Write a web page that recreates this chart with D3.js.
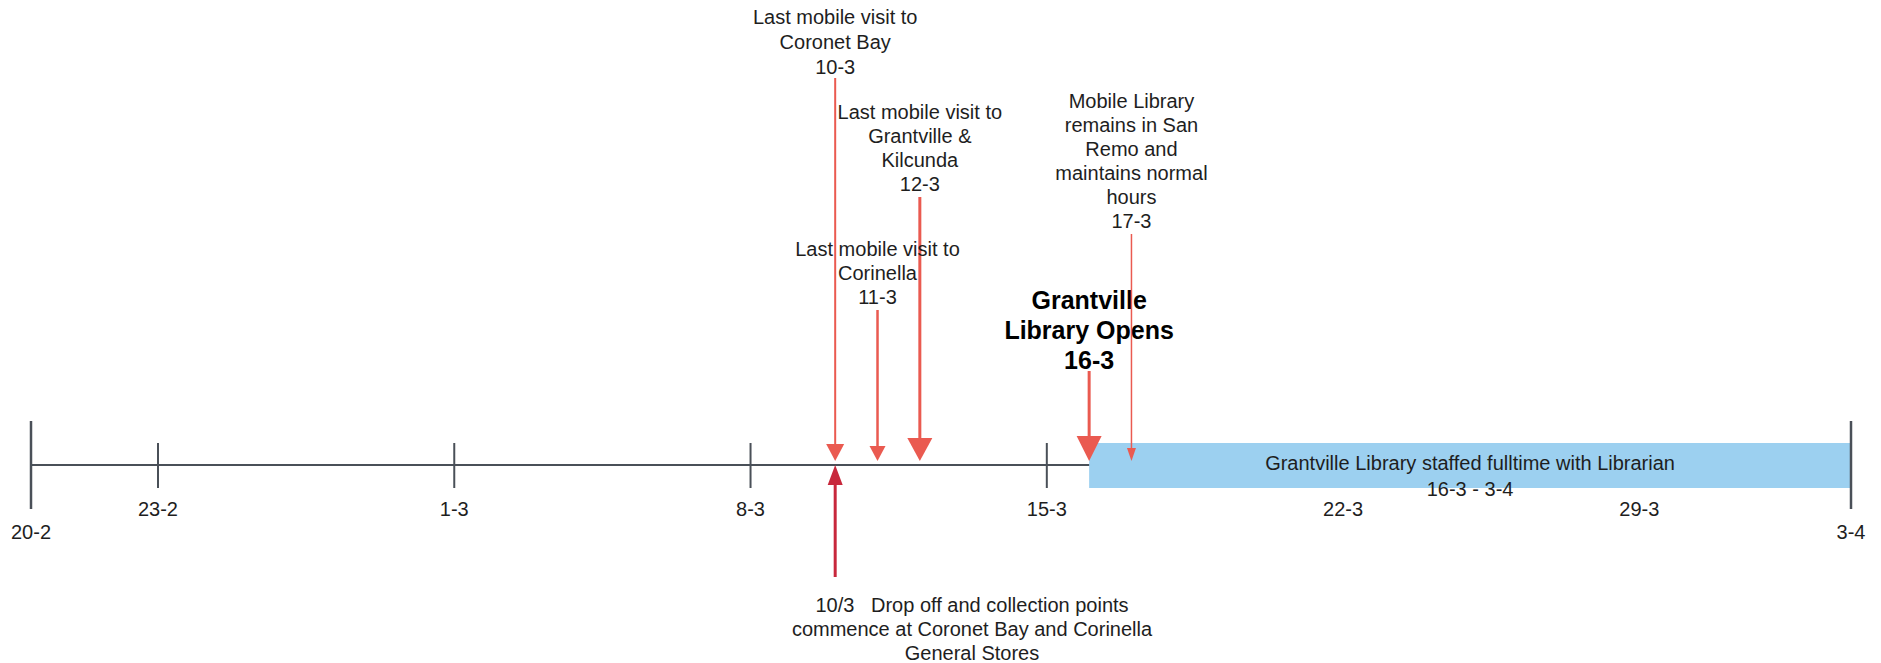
<!DOCTYPE html>
<html>
<head>
<meta charset="utf-8">
<script src="https://cdn.jsdelivr.net/npm/d3@7"></script>
<style>
  body { margin: 0; background: #fff; }
  svg text { font-family: "Liberation Sans", Arial, sans-serif; fill: #1e1e1e; white-space: pre; }
</style>
</head>
<body>
<div id="chart"></div>
<script>
// timeline data
const endDates = ["2020-02-20", "2020-04-03"]
const endLabels = ["20-2", "3-4"]
const weekDates = ["2020-02-23", "2020-03-01", "2020-03-08", "2020-03-15", "2020-03-22", "2020-03-29"]
const weekLabels = ["23-2", "1-3", "8-3", "15-3", "22-3", "29-3"]

const eventDates = ["2020-03-10", "2020-03-12", "2020-03-11", "2020-03-16", "2020-03-17"]
const eventLabels = [
  ["Last mobile visit to", "Coronet Bay", "10-3"],
  ["Last mobile visit to", "Grantville &", "Kilcunda", "12-3"],
  ["Last mobile visit to", "Corinella", "11-3"],
  ["Grantville", "Library Opens", "16-3"],
  ["Mobile Library", "remains in San", "Remo and", "maintains normal", "hours", "17-3"]
]

const spanStart = "2020-03-16"
const spanEnd = "2020-04-03"
const spanLabels = ["Grantville Library staffed fulltime with Librarian", "16-3 - 3-4"]

const dropDate = "2020-03-10"
const dropLabels = ["10/3   Drop off and collection points", "commence at Coronet Bay and Corinella", "General Stores"]

// layout for the annotations (not data)
const eventLayout = [
  { top: 17, gap: 25, size: 20, bold: false, stemTop: 78, hw: 18, hh: 17, sw: 2 },
  { top: 112, gap: 24, size: 20, bold: false, stemTop: 197, hw: 25, hh: 23, sw: 3 },
  { top: 249, gap: 24, size: 20, bold: false, stemTop: 310, hw: 16, hh: 15, sw: 2.5 },
  { top: 300, gap: 30, size: 25, bold: true, stemTop: 371, hw: 25, hh: 25, sw: 3 },
  { top: 101, gap: 24, size: 20, bold: false, stemTop: 234, hw: 9, hh: 13, sw: 1.5 }
]

const width = 1881, height = 663
const axisY = 465
const fontSize = "20px"
const arrowRed = "#ea5a50"
const darkRed = "#c8283c"
const axisColor = "#4a5058"

const parse = d3.timeParse("%Y-%m-%d")
const x = d3.scaleTime()
  .domain([parse(endDates[0]), parse(endDates[1])])
  .range([31, 1851])

const svg = d3.select("#chart").append("svg")
  .attr("width", width)
  .attr("height", height)

// axis line
svg.append("line")
  .attr("x1", x(parse(endDates[0])))
  .attr("x2", x(parse(endDates[1])))
  .attr("y1", axisY).attr("y2", axisY)
  .attr("stroke", axisColor)
  .attr("stroke-width", 2)

// weekly ticks
svg.selectAll(".wtick")
  .data(weekDates)
  .enter().append("line")
  .attr("class", "wtick")
  .attr("x1", d => x(parse(d))).attr("x2", d => x(parse(d)))
  .attr("y1", 443).attr("y2", 488)
  .attr("stroke", axisColor)
  .attr("stroke-width", 2)

svg.selectAll(".wlabel")
  .data(weekLabels)
  .enter().append("text")
  .attr("class", "wlabel")
  .attr("x", (d, i) => x(parse(weekDates[i])))
  .attr("y", 509)
  .attr("dy", "0.35em")
  .attr("text-anchor", "middle")
  .style("font-size", fontSize)
  .text(d => d)

// span bar
svg.append("rect")
  .attr("x", x(parse(spanStart)))
  .attr("width", x(parse(spanEnd)) - x(parse(spanStart)))
  .attr("y", 443)
  .attr("height", 45)
  .attr("fill", "#9cd0f0")

svg.selectAll(".slabel")
  .data(spanLabels)
  .enter().append("text")
  .attr("class", "slabel")
  .attr("x", (x(parse(spanStart)) + x(parse(spanEnd))) / 2)
  .attr("y", (d, i) => 463 + i * 26)
  .attr("dy", "0.35em")
  .attr("text-anchor", "middle")
  .style("font-size", fontSize)
  .text(d => d)

// end ticks
svg.selectAll(".etick")
  .data(endDates)
  .enter().append("line")
  .attr("class", "etick")
  .attr("x1", d => x(parse(d))).attr("x2", d => x(parse(d)))
  .attr("y1", 421).attr("y2", 509)
  .attr("stroke", axisColor)
  .attr("stroke-width", 2.5)

svg.selectAll(".elabel")
  .data(endLabels)
  .enter().append("text")
  .attr("class", "elabel")
  .attr("x", (d, i) => x(parse(endDates[i])))
  .attr("y", 532)
  .attr("dy", "0.35em")
  .attr("text-anchor", "middle")
  .style("font-size", fontSize)
  .text(d => d)

// event arrows
const tipY = 461
eventDates.forEach((d, i) => {
  const L = eventLayout[i]
  const cx = x(parse(d))
  const g = svg.append("g")
  g.append("line")
    .attr("x1", cx).attr("x2", cx)
    .attr("y1", L.stemTop).attr("y2", tipY - L.hh + 2)
    .attr("stroke", arrowRed)
    .attr("stroke-width", L.sw)
  g.append("path")
    .attr("d", `M${cx - L.hw / 2},${tipY - L.hh}L${cx + L.hw / 2},${tipY - L.hh}L${cx},${tipY}Z`)
    .attr("fill", arrowRed)
  g.selectAll("text")
    .data(eventLabels[i])
    .enter().append("text")
    .attr("x", cx)
    .attr("y", (t, j) => L.top + j * L.gap)
    .attr("dy", "0.35em")
    .attr("text-anchor", "middle")
    .style("font-size", L.size + "px")
    .style("font-weight", L.bold ? "bold" : "normal")
    .style("fill", L.bold ? "#000" : null)
    .text(t => t)
})

// upward drop-off arrow
const dx = x(parse(dropDate))
svg.append("line")
  .attr("x1", dx).attr("x2", dx)
  .attr("y1", 577).attr("y2", axisY + 18)
  .attr("stroke", darkRed)
  .attr("stroke-width", 3)
svg.append("path")
  .attr("d", `M${dx - 7.5},${axisY + 20}L${dx + 7.5},${axisY + 20}L${dx},${axisY}Z`)
  .attr("fill", darkRed)

svg.selectAll(".dlabel")
  .data(dropLabels)
  .enter().append("text")
  .attr("class", "dlabel")
  .attr("x", 972)
  .attr("y", (d, i) => 605 + i * 24)
  .attr("dy", "0.35em")
  .attr("text-anchor", "middle")
  .style("font-size", fontSize)
  .text(d => d)
</script>
</body>
</html>
